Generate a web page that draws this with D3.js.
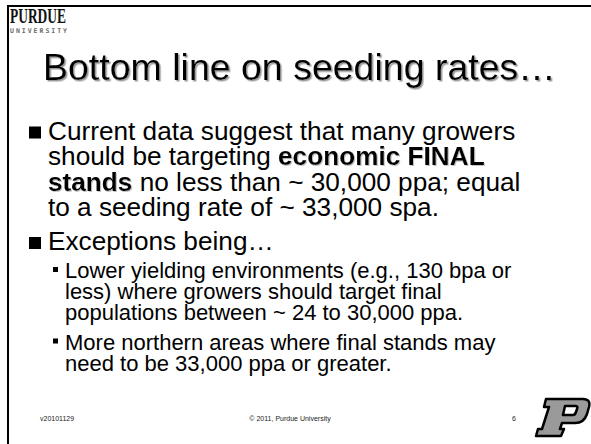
<!DOCTYPE html>
<html lang="en">
<head>
    <meta charset="utf-8">
    <title>Bottom line on seeding rates</title>
    <script src="https://cdn.jsdelivr.net/npm/d3@7/dist/d3.min.js"></script>
    <style>
        body { margin: 0; background: #fff; }
        svg { display: block; font-family: Arial, "Liberation Sans", sans-serif; }
        svg text { white-space: pre; }
    </style>
</head>
<body>
<div id="slide"></div>

<script>
    // Textos do slide
    var titleText = 'Bottom line on seeding rates…';
    var mainBullets = [
        ['Current data suggest that many growers',
         'should be targeting economic FINAL',
         'stands no less than ~ 30,000 ppa; equal',
         'to a seeding rate of ~ 33,000 spa.'],
        ['Exceptions being…']
    ];
    var subBullets = [
        ['Lower yielding environments (e.g., 130 bpa or',
         'less) where growers should target final',
         'populations between ~ 24 to 30,000 ppa.'],
        ['More northern areas where final stands may',
         'need to be 33,000 ppa or greater.']
    ];
    // Trechos em negrito (apenas no primeiro nível)
    var emphasis = ['economic FINAL', 'stands'];
    var footerLabels = ['v20101129', '© 2011, Purdue University', '6'];
    var logoWords = ['PURDUE', 'UNIVERSITY'];

    var width = 591,
        height = 444;

    var svg = d3.select('#slide').append('svg')
        .attr('width', width)
        .attr('height', height);

    // Sombras do texto
    var defs = svg.append('defs');
    function shadowFilter(id, d, color) {
        defs.append('filter')
            .attr('id', id)
            .attr('x', '-5%').attr('y', '-20%')
            .attr('width', '115%').attr('height', '150%')
            .append('feDropShadow')
            .attr('dx', d).attr('dy', d)
            .attr('stdDeviation', 0.4)
            .attr('flood-color', color);
    }
    shadowFilter('shadow', 1.5, '#9a9a9a');
    shadowFilter('shadow-sm', 1, '#c4c4c4');

    // Moldura (topo e lado esquerdo)
    svg.append('line')
        .attr('x1', 7).attr('x2', width)
        .attr('y1', 6).attr('y2', 6)
        .attr('stroke', '#000').attr('stroke-width', 2);
    svg.append('line')
        .attr('x1', 8).attr('x2', 8)
        .attr('y1', 5).attr('y2', height)
        .attr('stroke', '#000').attr('stroke-width', 2);

    // Logotipo
    svg.append('text')
        .attr('x', 10).attr('y', 23)
        .attr('font-family', '"Liberation Serif", "DejaVu Serif", serif')
        .attr('font-weight', 'bold')
        .attr('font-size', 20)
        .attr('fill', '#111')
        .attr('textLength', 56)
        .attr('lengthAdjust', 'spacingAndGlyphs')
        .text(logoWords[0]);
    svg.append('text')
        .attr('x', 10).attr('y', 32.5)
        .attr('font-family', '"DejaVu Sans Mono", monospace')
        .attr('font-weight', 'bold')
        .attr('font-size', 6.5)
        .attr('fill', '#6a6a6a')
        .attr('textLength', 57)
        .attr('lengthAdjust', 'spacing')
        .text(logoWords[1]);

    // Título
    svg.append('text')
        .attr('x', 43).attr('y', 80)
        .attr('font-size', 37.5)
        .attr('filter', 'url(#shadow)')
        .text(titleText);

    // Divide uma linha em pedaços normais / negrito
    function pieces(line, bold) {
        if (!bold) return [{ t: line, b: false }];
        var re = new RegExp('(' + emphasis.join('|') + ')');
        return line.split(re).filter(function(d) { return d.length; })
            .map(function(d) { return { t: d, b: emphasis.indexOf(d) >= 0 }; });
    }

    function writeLine(g, x, y, size, line, bold) {
        var cx = x;
        pieces(line, bold).forEach(function(p) {
            var t = g.append('text')
                .attr('x', cx).attr('y', y)
                .attr('font-size', size)
                .attr('font-weight', p.b ? 'bold' : 'normal')
                .attr('filter', p.b ? 'url(#shadow-sm)' : null)
                .text(p.t);
            cx += t.node().getComputedTextLength();
        });
    }

    var body = svg.append('g');

    // Nível 1
    var mainStart = [139.5, 250],
        mainStep = 25.5;
    mainBullets.forEach(function(lines, i) {
        body.append('rect')
            .attr('x', 29).attr('y', mainStart[i] - 13)
            .attr('width', 12).attr('height', 12)
            .attr('fill', '#000');
        lines.forEach(function(line, j) {
            writeLine(body, 48, mainStart[i] + j * mainStep, 26.2, line, true);
        });
    });

    // Nível 2
    var subStart = [278, 349.5],
        subStep = 21;
    subBullets.forEach(function(lines, i) {
        body.append('rect')
            .attr('x', 53).attr('y', subStart[i] - 11)
            .attr('width', 5).attr('height', 5)
            .attr('fill', '#000');
        lines.forEach(function(line, j) {
            writeLine(body, 65, subStart[i] + j * subStep, 22, line, false);
        });
    });

    // Rodapé
    var footer = svg.append('g')
        .attr('font-size', 7)
        .attr('fill', '#222');
    footer.selectAll('text')
        .data(footerLabels)
        .enter()
        .append('text')
        .attr('x', function(d, i) { return [40, 290, 514][i]; })
        .attr('y', 421)
        .attr('text-anchor', function(d, i) { return ['start', 'middle', 'middle'][i]; })
        .text(function(d) { return d; });

    // Logo "P"
    svg.append('path')
        .attr('transform', 'translate(534,398)')
        .attr('d', 'M12,1 L49,1 Q57,1 55,9 L53,16 Q50,25 41,25 L28,25 L26,31 L30,31 L27,38 L2,38 ' +
                   'L4,31 L8,31 L15,9 L10,9 Z M31,8 L42,8 Q44,8 43,11 L42,14 Q41,17 39,17 L29,17 Z')
        .attr('fill', '#9a9a9a')
        .attr('fill-rule', 'evenodd')
        .attr('stroke', '#000')
        .attr('stroke-width', 2.5)
        .attr('stroke-linejoin', 'round');
</script>
</body>
</html>
